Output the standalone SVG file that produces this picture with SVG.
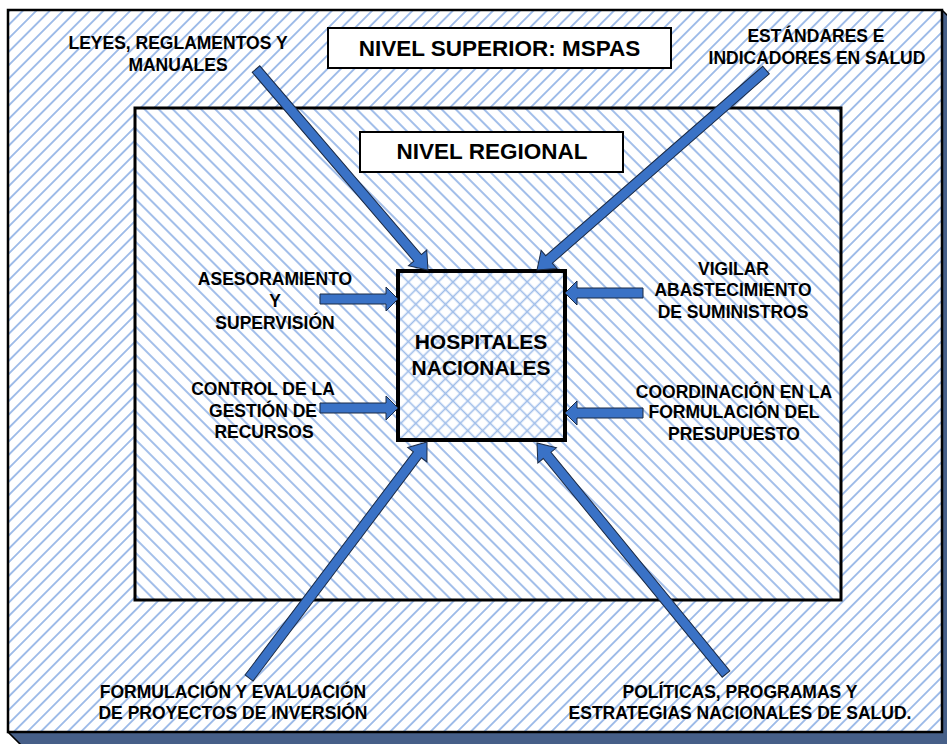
<svg xmlns="http://www.w3.org/2000/svg" width="947" height="744" viewBox="0 0 947 744">
  <style>
    .lbl { font-family: "Liberation Sans", Arial, sans-serif; font-weight: bold; fill: #000; text-anchor: middle; }
    .small { font-size: 17.5px; }
    .title { font-size: 22.5px; }
    .center { font-size: 21px; }
    .frame { stroke: #000; stroke-width: 2.5; }
    .tag { fill: #fff; stroke: #000; stroke-width: 2; }
    .arrow { fill: #3a72c6; stroke: #1b2a44; stroke-width: 1; stroke-linejoin: miter; }
  </style>
  <defs>
    <!-- forward diagonal hatch (/) -->
    <pattern id="hatchFwd" width="9.5" height="9.5" patternUnits="userSpaceOnUse" patternTransform="rotate(45)">
      <line x1="4.75" y1="0" x2="4.75" y2="9.5" stroke="#92b3e6" stroke-width="1.7"/>
    </pattern>
    <!-- backward diagonal hatch (\) -->
    <pattern id="hatchBack" width="10" height="10" patternUnits="userSpaceOnUse" patternTransform="rotate(-45)">
      <line x1="5" y1="0" x2="5" y2="10" stroke="#92b3e6" stroke-width="1.7"/>
    </pattern>
    <!-- cross hatch -->
    <pattern id="hatchCross" width="10.5" height="10.5" patternUnits="userSpaceOnUse" patternTransform="rotate(45)">
      <line x1="5.25" y1="0" x2="5.25" y2="10.5" stroke="#9fbde9" stroke-width="1.6"/>
      <line x1="0" y1="5.25" x2="10.5" y2="5.25" stroke="#9fbde9" stroke-width="1.6"/>
    </pattern>
  </defs>

  <!-- outer level: frame with extruded shadow -->
  <g id="nivel-superior">
    <polygon points="942,10 956,24 956,746 22,746 8,732" fill="#465f88" stroke="#000" stroke-width="1.5"/>
    <rect x="8" y="10" width="934" height="722" fill="#fff"/>
    <rect x="8" y="10" width="934" height="722" fill="url(#hatchFwd)" class="frame"/>
    <rect x="328" y="28" width="343" height="40" class="tag"/>
    <text x="499.5" y="56" class="lbl title">NIVEL SUPERIOR: MSPAS</text>
  </g>

  <!-- regional level -->
  <g id="nivel-regional">
    <rect x="135" y="108" width="706" height="492" fill="#fff"/>
    <rect x="135" y="108" width="706" height="492" fill="url(#hatchBack)" stroke="#000" stroke-width="3"/>
    <rect x="360" y="132" width="263" height="40" class="tag"/>
    <text x="492" y="159" class="lbl title">NIVEL REGIONAL</text>
  </g>

  <!-- central node -->
  <g id="hospitales-nacionales">
    <rect x="398" y="271" width="167" height="169" fill="#fff"/>
    <rect x="398" y="271" width="167" height="169" fill="url(#hatchCross)" stroke="#000" stroke-width="4"/>
    <text x="481" y="349" class="lbl center">HOSPITALES</text>
    <text x="481" y="375" class="lbl center">NACIONALES</text>
  </g>

  <!-- block arrows: tip at origin, pointing along +x -->
  <g id="connectors">
    <polygon class="arrow" transform="translate(428,270) rotate(49.44)" points="-264.5,-5 -16,-5 -16,-12 0,0 -16,12 -16,5 -264.5,5"/>
    <polygon class="arrow" transform="translate(537,270) rotate(138.87)" points="-304,-5 -16,-5 -16,-12 0,0 -16,12 -16,5 -304,5"/>
    <polygon class="arrow" transform="translate(427,442) rotate(-52.98)" points="-295.6,-5 -16,-5 -16,-12 0,0 -16,12 -16,5 -295.6,5"/>
    <polygon class="arrow" transform="translate(537,443) rotate(-129.29)" points="-298.5,-5 -16,-5 -16,-12 0,0 -16,12 -16,5 -298.5,5"/>
    <polygon class="arrow" transform="translate(398,299)" points="-78,-5 -12,-5 -12,-12 0,0 -12,12 -12,5 -78,5"/>
    <polygon class="arrow" transform="translate(398,408)" points="-78,-5 -12,-5 -12,-12 0,0 -12,12 -12,5 -78,5"/>
    <polygon class="arrow" transform="translate(565,293) rotate(180)" points="-78,-5 -12,-5 -12,-12 0,0 -12,12 -12,5 -78,5"/>
    <polygon class="arrow" transform="translate(565,413) rotate(180)" points="-78,-5 -12,-5 -12,-12 0,0 -12,12 -12,5 -78,5"/>
  </g>

  <g id="leyes">
    <text x="178" y="49" class="lbl small">LEYES, REGLAMENTOS Y</text>
    <text x="178" y="71" class="lbl small">MANUALES</text>
  </g>
  <g id="estandares">
    <text x="816" y="42" class="lbl small">ESTÁNDARES E</text>
    <text x="817" y="64" class="lbl small">INDICADORES EN SALUD</text>
  </g>
  <g id="asesoramiento">
    <text x="275" y="285" class="lbl small">ASESORAMIENTO</text>
    <text x="275" y="307" class="lbl small">Y</text>
    <text x="275" y="329" class="lbl small">SUPERVISIÓN</text>
  </g>
  <g id="control">
    <text x="263" y="395" class="lbl small">CONTROL DE LA</text>
    <text x="263" y="417" class="lbl small">GESTIÓN DE</text>
    <text x="264" y="438" class="lbl small">RECURSOS</text>
  </g>
  <g id="vigilar">
    <text x="733.5" y="275" class="lbl small">VIGILAR</text>
    <text x="733" y="296" class="lbl small">ABASTECIMIENTO</text>
    <text x="733" y="318" class="lbl small">DE SUMINISTROS</text>
  </g>
  <g id="coordinacion">
    <text x="734" y="398" class="lbl small">COORDINACIÓN EN LA</text>
    <text x="734" y="418" class="lbl small">FORMULACIÓN DEL</text>
    <text x="734" y="440" class="lbl small">PRESUPUESTO</text>
  </g>
  <g id="formulacion">
    <text x="233" y="698" class="lbl small">FORMULACIÓN Y EVALUACIÓN</text>
    <text x="233" y="719" class="lbl small">DE PROYECTOS DE INVERSIÓN</text>
  </g>
  <g id="politicas">
    <text x="740" y="698" class="lbl small">POLÍTICAS, PROGRAMAS Y</text>
    <text x="740" y="719" class="lbl small">ESTRATEGIAS NACIONALES DE SALUD.</text>
  </g>
</svg>
